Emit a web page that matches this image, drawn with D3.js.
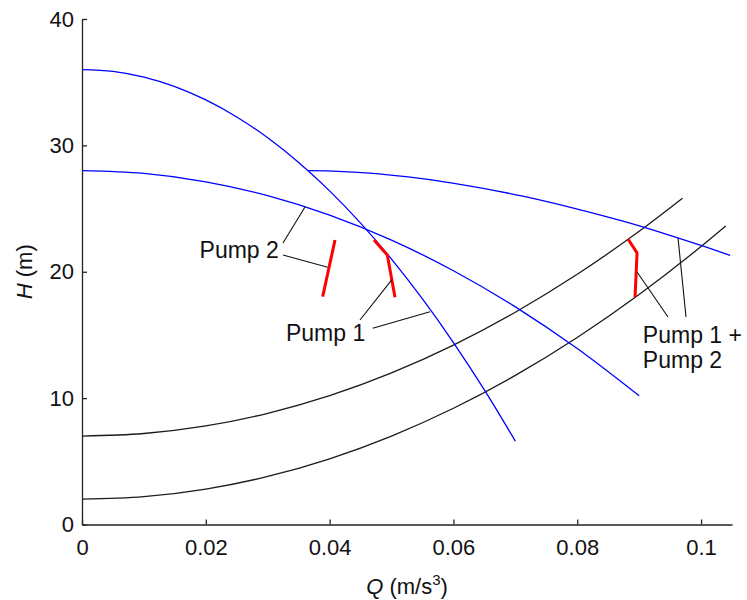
<!DOCTYPE html>
<html>
<head>
<meta charset="utf-8">
<script src="https://cdn.jsdelivr.net/npm/d3@7"></script>
<style>
  body { margin: 0; background: #fff; }
  svg { display: block; font-family: "Liberation Sans", Arial, sans-serif; }
</style>
</head>
<body>
<div id="chart"></div>
<script>
// pump curves (Q in m3/s, H in m)
var pump1Q = [0, 0.005, 0.01, 0.015, 0.02, 0.025, 0.03, 0.035, 0.04, 0.045, 0.05, 0.055, 0.06, 0.065, 0.07];
var pump1H = [36, 35.85, 35.4, 34.65, 33.6, 32.25, 30.6, 28.65, 26.4, 23.85, 21.0, 17.85, 14.4, 10.65, 6.6];

var pump2Q = [0, 0.01, 0.02, 0.03, 0.04, 0.05, 0.06, 0.07, 0.08, 0.09];
var pump2H = [28, 27.78, 27.12, 26.02, 24.48, 22.5, 20.08, 17.22, 13.92, 10.18];

var bothQ = [0.0365, 0.0414, 0.0465, 0.0527, 0.0601, 0.0710, 0.0797, 0.0874, 0.0942, 0.1005, 0.1047];
var bothH = [28.0, 27.95, 27.8, 27.5, 27.0, 26.0, 25.0, 24.0, 23.0, 22.0, 21.3];

// system curves
var sysAQ = [0, 0.01, 0.02, 0.03, 0.04, 0.05, 0.06, 0.07, 0.08, 0.09, 0.097];
var sysAH = [7, 7.2, 7.8, 8.8, 10.2, 12, 14.2, 16.8, 19.8, 23.2, 25.82];
var sysBQ = [0, 0.01, 0.02, 0.03, 0.04, 0.05, 0.06, 0.07, 0.08, 0.09, 0.1, 0.104];
var sysBH = [2, 2.2, 2.8, 3.8, 5.2, 7, 9.2, 11.8, 14.8, 18.2, 22, 23.63];

// red operating marks
var red2Q = [0.03888, 0.04087];
var red2H = [18.03, 22.51];
var red1Q = [0.04717, 0.04932, 0.05056];
var red1H = [22.51, 21.33, 17.99];
var red12Q = [0.0882, 0.08966, 0.08934];
var red12H = [22.59, 21.49, 18.0];

// leader lines [[Q,H],[Q,H]]
var leaders = [
  [[0.03247, 22.27], [0.03602, 25.12]],
  [[0.03247, 21.32], [0.03969, 20.35]],
  [[0.04491, 16.18], [0.05003, 19.35]],
  [[0.04696, 15.53], [0.05622, 16.84]],
  [[0.09466, 16.42], [0.08966, 19.98]],
  [[0.09757, 16.42], [0.09628, 22.67]]
];
var labelText = ["Pump 2", "Pump 1", "Pump 1 +", "Pump 2"];
var labelQ = [0.0318, 0.03295, 0.0906, 0.0906];
var labelH = [21.09, 14.52, 14.36, 12.38];
var labelAnchor = ["end", "start", "start", "start"];

var xTicks = [0, 0.02, 0.04, 0.06, 0.08, 0.1];
var xTickLabels = ["0", "0.02", "0.04", "0.06", "0.08", "0.1"];
var yTicks = [0, 10, 20, 30, 40];

var width = 747, height = 600;
var svg = d3.select("#chart").append("svg")
  .attr("width", width)
  .attr("height", height);

var x = d3.scaleLinear().domain([0, 0.105]).range([82, 732]);
var y = d3.scaleLinear().domain([0, 40]).range([524.5, 19]);

function zip(qs, hs) {
  return qs.map(function(q, i) { return [q, hs[i]]; });
}

var line = d3.line()
  .x(function(d) { return x(d[0]); })
  .y(function(d) { return y(d[1]); })
  .curve(d3.curveMonotoneX);

var straight = d3.line()
  .x(function(d) { return x(d[0]); })
  .y(function(d) { return y(d[1]); });

// axes
var xAxis = svg.append("g")
  .attr("transform", "translate(0," + y(0) + ")")
  .call(d3.axisBottom(x).tickValues(xTicks)
    .tickFormat(function(d, i) { return xTickLabels[i]; })
    .tickSizeInner(-5).tickSizeOuter(0).tickPadding(14.5));

var yAxis = svg.append("g")
  .attr("transform", "translate(" + x(0) + ",0)")
  .call(d3.axisLeft(y).tickValues(yTicks)
    .tickSizeInner(-5).tickSizeOuter(0).tickPadding(8));

[xAxis, yAxis].forEach(function(a) {
  a.selectAll("path, line").attr("stroke", "#222").attr("stroke-width", 1.3);
  a.selectAll("text").attr("font-size", "22px").attr("fill", "#111")
    .attr("font-family", "Liberation Sans, Arial, sans-serif");
});

// system curves
[zip(sysAQ, sysAH), zip(sysBQ, sysBH)].forEach(function(d) {
  svg.append("path").attr("d", line(d))
    .attr("fill", "none").attr("stroke", "#1a1a1a").attr("stroke-width", 1.3);
});

// pump curves
[zip(pump1Q, pump1H), zip(pump2Q, pump2H), zip(bothQ, bothH)].forEach(function(d) {
  svg.append("path").attr("d", line(d))
    .attr("fill", "none").attr("stroke", "#0000ff").attr("stroke-width", 1.3);
});

// red marks
[zip(red2Q, red2H), zip(red1Q, red1H), zip(red12Q, red12H)].forEach(function(d) {
  svg.append("path").attr("d", straight(d))
    .attr("fill", "none").attr("stroke", "#ff0000").attr("stroke-width", 3)
    .attr("stroke-linejoin", "round");
});

// leaders and labels
svg.selectAll(".leader").data(leaders).enter()
  .append("path").attr("class", "leader")
  .attr("d", function(d) { return straight(d); })
  .attr("fill", "none").attr("stroke", "#111").attr("stroke-width", 1.1);

svg.selectAll(".lab").data(labelText).enter()
  .append("text").attr("class", "lab")
  .attr("x", function(d, i) { return x(labelQ[i]); })
  .attr("y", function(d, i) { return y(labelH[i]); })
  .attr("text-anchor", function(d, i) { return labelAnchor[i]; })
  .attr("font-size", "23px").attr("fill", "#111")
  .text(function(d) { return d; });

// axis titles
var xt = svg.append("text")
  .attr("x", (x(0) + x(0.105)) / 2)
  .attr("y", 594)
  .attr("text-anchor", "middle")
  .attr("font-size", "22px").attr("fill", "#111");
xt.append("tspan").attr("font-style", "italic").text("Q");
xt.append("tspan").text(" (m/s");
xt.append("tspan").attr("dy", -9).attr("font-size", "15px").text("3");
xt.append("tspan").attr("dy", 9).text(")");

var yt = svg.append("text")
  .attr("transform", "translate(32," + y(20) + ") rotate(-90)")
  .attr("text-anchor", "middle")
  .attr("font-size", "22px").attr("fill", "#111");
yt.append("tspan").attr("font-style", "italic").text("H");
yt.append("tspan").text(" (m)");
</script>
</body>
</html>
